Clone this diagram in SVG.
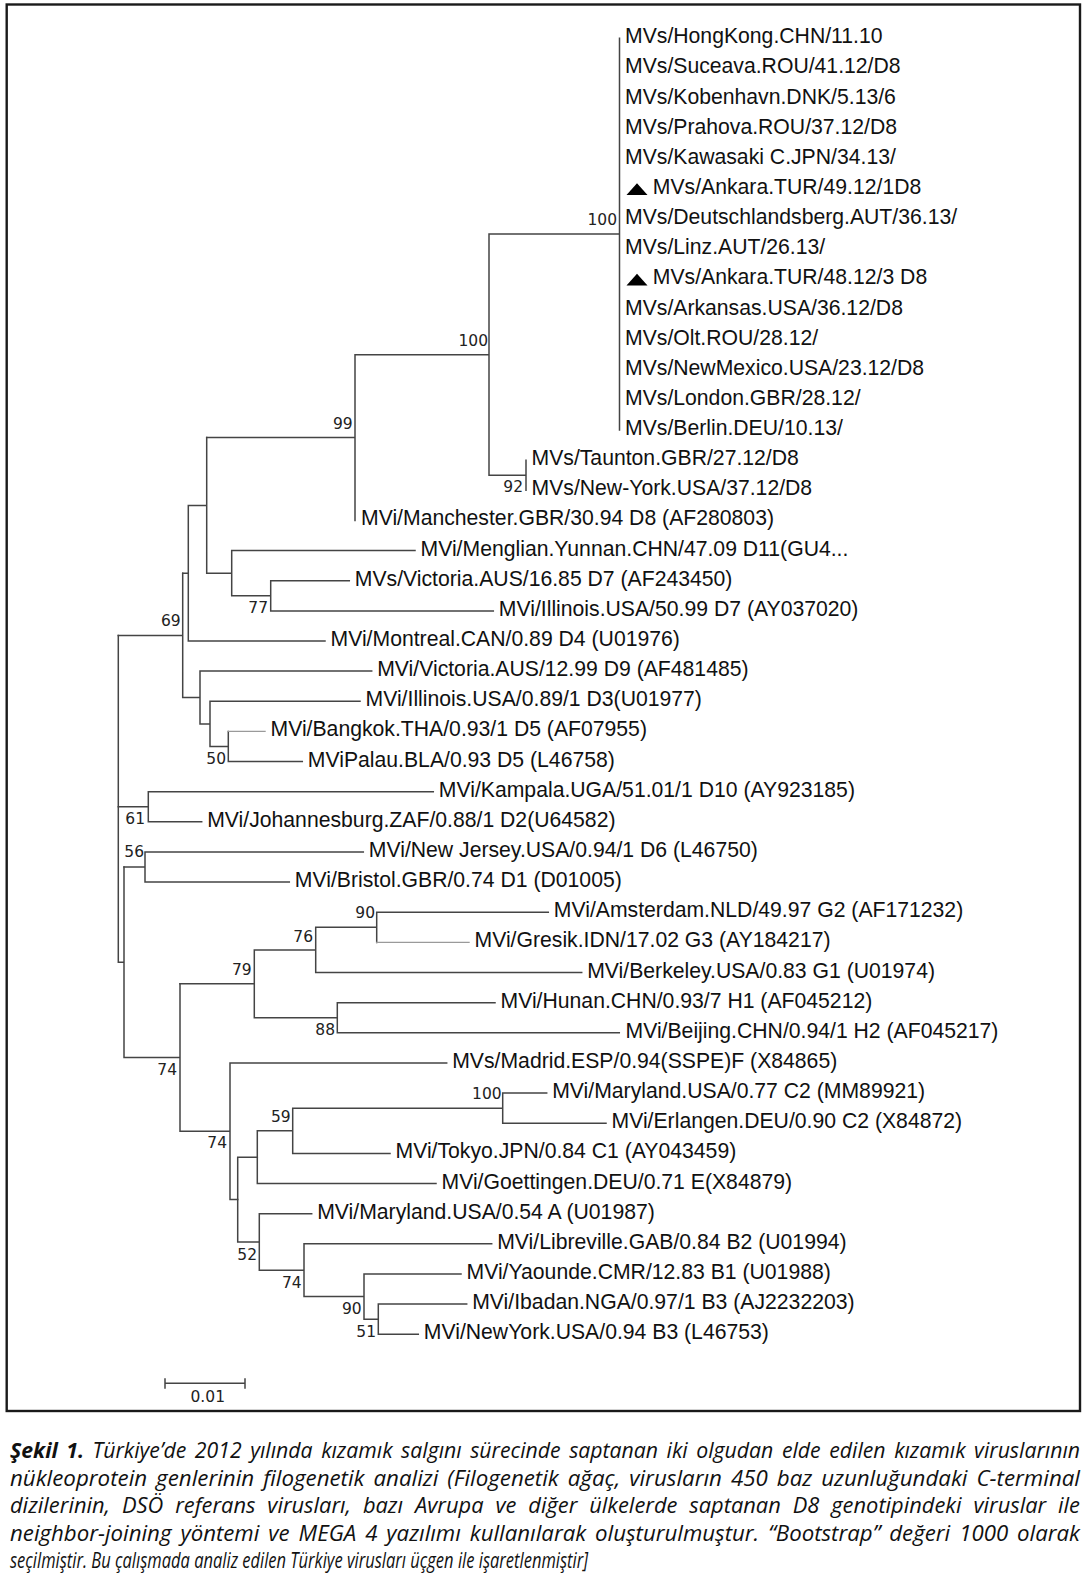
<svg xmlns="http://www.w3.org/2000/svg" width="1085" height="1579" viewBox="0 0 1085 1579">
<style>
.br{fill:none;stroke:#444;stroke-width:1.5;stroke-linecap:square}
.lt{fill:none;stroke:#9a9a9a;stroke-width:1.4}
.lb{font-family:"Liberation Sans",Arial,sans-serif;font-size:21.2px;fill:#111}
.bs{font-family:"DejaVu Sans",Verdana,sans-serif;font-size:15.5px;fill:#222;text-anchor:end}
.cap{font-family:"Open Sans","DejaVu Sans",sans-serif;font-style:italic;font-size:21px;fill:#111}
</style>
<rect x="6.7" y="4.5" width="1073.3" height="1406.5" fill="#fff" stroke="#1a1a1a" stroke-width="2.4"/>
<g id="connectors" class="br">
<path d="M619.5 38.2V430M489 234.1H619.5M526 460.2V490.3M489 475.2H526M489 234.1V475.2M355 354.7H489M355 354.7V520.4M206.7 437.6H355"/>
<path d="M231.7 550.6H415M270.7 580.7V610.9M270.7 580.7H349.3M270.7 610.9H493.3M231.7 595.8H270.7M231.7 550.6V595.8M206.7 573.2H231.7M206.7 437.6V573.2M188.3 505.4H206.7M188.3 505.4V641M188.3 641H325M182.7 573.2H188.3"/>
<path d="M200 671.1H371.7M210 701.3H360M228.3 761.6H302.3M228.3 731.4V761.6M210 746.5H228.3M210 701.3V746.5M200 723.9H210M200 671.1V723.9M182.7 697.5H200M182.7 573.2V697.5M118.3 635.4H182.7"/>
<path class="lt" d="M228.3 731.4H265"/>
<path d="M148.3 791.7V821.8M148.3 791.7H433.3M148.3 821.8H201.7M118.3 806.8H148.3M145 852V882.1M145 852H363.3M145 882.1H289.3M124 867.05H145"/>
<path d="M376.7 912.3V942.4M376.7 912.3H548.3M315.7 927.3V972.5M315.7 972.5H581.7M315.7 927.3H376.7M337.3 1002.7V1032.8M337.3 1002.7H495M337.3 1032.8H619.3M254.3 949.9V1017.75M254.3 949.9H315.7M254.3 1017.75H337.3M180 983.8H254.3"/>
<path class="lt" d="M376.7 942.4H469"/>
<path d="M502.7 1093.1V1123.2M502.7 1093.1H546.7M502.7 1123.2H606M292.7 1108.2V1153.4M292.7 1108.2H502.7M292.7 1153.4H390M257.3 1130.8V1183.5M257.3 1130.8H292.7M257.3 1183.5H436"/>
<path d="M378.3 1304.1V1334.2M378.3 1304.1H466.7M378.3 1334.2H418.3M364 1273.9V1319.2M364 1273.9H461M364 1319.2H378.3M304 1243.8V1296.5M304 1243.8H491.7M304 1296.5H364M259.3 1213.7V1270.2M259.3 1213.7H311.7M259.3 1270.2H304M237.7 1157.2V1241.9M237.7 1157.2H257.3M237.7 1241.9H259.3"/>
<path d="M230 1063V1199.6M230 1063H446.7M230 1199.6H237.7M180 983.8V1131.3M180 1131.3H230M124 867.05V1057.5M124 1057.5H180M118.3 635.4V962.3M118.3 962.3H124"/>
<path d="M165 1383.3H245M165 1379V1388M245 1379V1388"/>
</g>
<g id="bootstrap" class="bs">
<text x="617" y="225">100</text>
<text x="488" y="345.7">100</text>
<text x="352.7" y="429">99</text>
<text x="523" y="492.3">92</text>
<text x="268" y="613.3">77</text>
<text x="180.7" y="626">69</text>
<text x="226" y="764.3">50</text>
<text x="145" y="824.3">61</text>
<text x="144" y="857">56</text>
<text x="375" y="918.3">90</text>
<text x="313" y="941.7">76</text>
<text x="251.7" y="975">79</text>
<text x="335" y="1035">88</text>
<text x="177" y="1075">74</text>
<text x="501.7" y="1099">100</text>
<text x="290.7" y="1122.3">59</text>
<text x="227" y="1148.3">74</text>
<text x="257" y="1260">52</text>
<text x="301.7" y="1288.3">74</text>
<text x="361.7" y="1314.3">90</text>
<text x="376" y="1336.7">51</text>
<text x="225" y="1401.7">0.01</text>
</g>
<g class="lb">
<g id="n0"><text x="625" y="43.2">MVs/HongKong.CHN/11.10</text></g>
<g id="n1"><text x="625" y="73.3">MVs/Suceava.ROU/41.12/D8</text></g>
<g id="n2"><text x="625" y="103.5">MVs/Kobenhavn.DNK/5.13/6</text></g>
<g id="n3"><text x="625" y="133.6">MVs/Prahova.ROU/37.12/D8</text></g>
<g id="n4"><text x="625" y="163.8">MVs/Kawasaki C.JPN/34.13/</text></g>
<g id="n5"><polygon points="626.5,195 647.5,195 637,183.3" fill="#000"/><text x="652.8" y="193.9">MVs/Ankara.TUR/49.12/1D8</text></g>
<g id="n6"><text x="625" y="224">MVs/Deutschlandsberg.AUT/36.13/</text></g>
<g id="n7"><text x="625" y="254.2">MVs/Linz.AUT/26.13/</text></g>
<g id="n8"><polygon points="626.5,285.4 647.5,285.4 637,273.7" fill="#000"/><text x="652.8" y="284.3">MVs/Ankara.TUR/48.12/3 D8</text></g>
<g id="n9"><text x="625" y="314.5">MVs/Arkansas.USA/36.12/D8</text></g>
<g id="n10"><text x="625" y="344.6">MVs/Olt.ROU/28.12/</text></g>
<g id="n11"><text x="625" y="374.7">MVs/NewMexico.USA/23.12/D8</text></g>
<g id="n12"><text x="625" y="404.9">MVs/London.GBR/28.12/</text></g>
<g id="n13"><text x="625" y="435">MVs/Berlin.DEU/10.13/</text></g>
<g id="n14"><text x="531.5" y="465.2">MVs/Taunton.GBR/27.12/D8</text></g>
<g id="n15"><text x="531.5" y="495.3">MVs/New-York.USA/37.12/D8</text></g>
<g id="n16"><text x="361" y="525.4">MVi/Manchester.GBR/30.94 D8 (AF280803)</text></g>
<g id="n17"><text x="420.5" y="555.6">MVi/Menglian.Yunnan.CHN/47.09 D11(GU4...</text></g>
<g id="n18"><text x="354.8" y="585.7">MVs/Victoria.AUS/16.85 D7 (AF243450)</text></g>
<g id="n19"><text x="498.8" y="615.9">MVi/Illinois.USA/50.99 D7 (AY037020)</text></g>
<g id="n20"><text x="330.5" y="646">MVi/Montreal.CAN/0.89 D4 (U01976)</text></g>
<g id="n21"><text x="377.2" y="676.1">MVi/Victoria.AUS/12.99 D9 (AF481485)</text></g>
<g id="n22"><text x="365.5" y="706.3">MVi/Illinois.USA/0.89/1 D3(U01977)</text></g>
<g id="n23"><text x="270.5" y="736.4">MVi/Bangkok.THA/0.93/1 D5 (AF07955)</text></g>
<g id="n24"><text x="307.8" y="766.6">MViPalau.BLA/0.93 D5 (L46758)</text></g>
<g id="n25"><text x="438.8" y="796.7">MVi/Kampala.UGA/51.01/1 D10 (AY923185)</text></g>
<g id="n26"><text x="207.2" y="826.8">MVi/Johannesburg.ZAF/0.88/1 D2(U64582)</text></g>
<g id="n27"><text x="368.8" y="857">MVi/New Jersey.USA/0.94/1 D6 (L46750)</text></g>
<g id="n28"><text x="294.8" y="887.1">MVi/Bristol.GBR/0.74 D1 (D01005)</text></g>
<g id="n29"><text x="553.8" y="917.3">MVi/Amsterdam.NLD/49.97 G2 (AF171232)</text></g>
<g id="n30"><text x="474.5" y="947.4">MVi/Gresik.IDN/17.02 G3 (AY184217)</text></g>
<g id="n31"><text x="587.2" y="977.5">MVi/Berkeley.USA/0.83 G1 (U01974)</text></g>
<g id="n32"><text x="500.5" y="1007.7">MVi/Hunan.CHN/0.93/7 H1 (AF045212)</text></g>
<g id="n33"><text x="625.5" y="1037.8">MVi/Beijing.CHN/0.94/1 H2 (AF045217)</text></g>
<g id="n34"><text x="452.2" y="1068">MVs/Madrid.ESP/0.94(SSPE)F (X84865)</text></g>
<g id="n35"><text x="552.2" y="1098.1">MVi/Maryland.USA/0.77 C2 (MM89921)</text></g>
<g id="n36"><text x="611.5" y="1128.2">MVi/Erlangen.DEU/0.90 C2 (X84872)</text></g>
<g id="n37"><text x="395.5" y="1158.4">MVi/Tokyo.JPN/0.84 C1 (AY043459)</text></g>
<g id="n38"><text x="441.5" y="1188.5">MVi/Goettingen.DEU/0.71 E(X84879)</text></g>
<g id="n39"><text x="317.2" y="1218.7">MVi/Maryland.USA/0.54 A (U01987)</text></g>
<g id="n40"><text x="497.2" y="1248.8">MVi/Libreville.GAB/0.84 B2 (U01994)</text></g>
<g id="n41"><text x="466.5" y="1278.9">MVi/Yaounde.CMR/12.83 B1 (U01988)</text></g>
<g id="n42"><text x="472.2" y="1309.1">MVi/Ibadan.NGA/0.97/1 B3 (AJ2232203)</text></g>
<g id="n43"><text x="423.8" y="1339.2">MVi/NewYork.USA/0.94 B3 (L46753)</text></g>
</g>
<g id="caption" class="cap">
<text x="10" y="1458" textLength="1070" lengthAdjust="spacingAndGlyphs" word-spacing="3"><tspan font-weight="bold">Şekil 1.</tspan> Türkiye’de 2012 yılında kızamık salgını sürecinde saptanan iki olgudan elde edilen kızamık viruslarının</text>
<text x="10" y="1485.5" textLength="1070" lengthAdjust="spacingAndGlyphs" word-spacing="3">nükleoprotein genlerinin filogenetik analizi (Filogenetik ağaç, virusların 450 baz uzunluğundaki C-terminal</text>
<text x="10" y="1513" textLength="1070" lengthAdjust="spacingAndGlyphs" word-spacing="6">dizilerinin, DSÖ referans virusları, bazı Avrupa ve diğer ülkelerde saptanan D8 genotipindeki viruslar ile</text>
<text x="10" y="1540.5" textLength="1070" lengthAdjust="spacingAndGlyphs" word-spacing="3">neighbor-joining yöntemi ve MEGA 4 yazılımı kullanılarak oluşturulmuştur. “Bootstrap” değeri 1000 olarak</text>
<text x="10" y="1568" textLength="578" lengthAdjust="spacingAndGlyphs">seçilmiştir. Bu çalışmada analiz edilen Türkiye virusları üçgen ile işaretlenmiştir]</text>
</g>
</svg>
